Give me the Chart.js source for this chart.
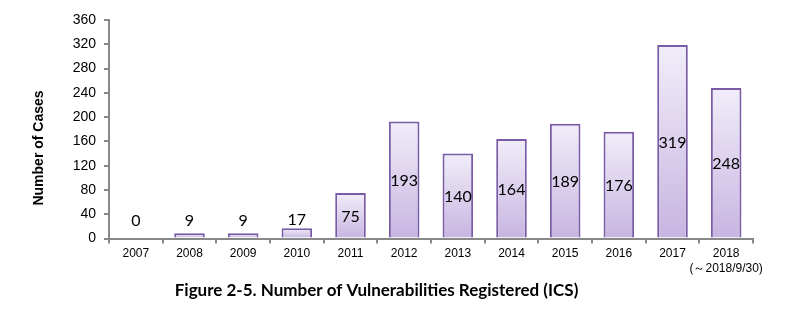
<!DOCTYPE html>
<html><head><meta charset="utf-8">
<script src="https://cdn.jsdelivr.net/npm/chart.js@4/dist/chart.umd.min.js"></script>
<style>html,body{margin:0;padding:0;background:#fff}#wrap{width:798px;height:324px;position:relative}</style>
</head><body><div id="wrap"><canvas id="c" width="798" height="324"></canvas></div>
<script>
const categories = ["2007","2008","2009","2010","2011","2012","2013","2014","2015","2016","2017",["2018","(～2018/9/30)"]];
const values = [0,9,9,17,75,193,140,164,189,176,319,248];
const yTicks = [0,40,80,120,160,200,240,280,320,360];

const labelPlugin = {
  id: 'vlabels',
  afterDatasetsDraw(chart) {
    const ctx = chart.ctx;
    const meta = chart.getDatasetMeta(0);
    const ys = chart.scales.y;
    ctx.save();
    ctx.font = '16px Lato, "Open Sans", sans-serif';
    ctx.fillStyle = '#000';
    ctx.textAlign = 'center';
    ctx.textBaseline = 'middle';
    meta.data.forEach((bar, i) => {
      const v = values[i];
      let y;
      if (v < 40) y = Math.min(bar.y - 8, ys.getPixelForValue(30));
      else y = (bar.y + ys.getPixelForValue(0)) / 2 + 1;
      ctx.fillText(String(v), bar.x, y);
    });
    ctx.restore();
  }
};

const yTitlePlugin = {
  id: 'ytitle',
  afterDraw(chart) {
    const ctx = chart.ctx;
    ctx.save();
    ctx.translate(39, 148);
    ctx.rotate(-Math.PI/2);
    ctx.font = 'bold 14px "Liberation Sans", Arial, sans-serif';
    ctx.fillStyle = '#000';
    ctx.textAlign = 'center';
    ctx.textBaseline = 'middle';
    ctx.fillText('Number of Cases', 0, 0);
    ctx.restore();
  }
};

new Chart(document.getElementById('c'), {
  type: 'bar',
  data: {
    labels: categories,
    datasets: [{
      data: values,
      backgroundColor(ctx) {
        const chart = ctx.chart;
        const ys = chart.scales.y;
        if (!ys || ctx.type !== 'data') return '#ddd3ee';
        const top = ys.getPixelForValue(values[ctx.dataIndex]);
        const bot = ys.getPixelForValue(0);
        if (!isFinite(top) || !isFinite(bot) || top === bot) return '#ddd3ee';
        const g = chart.ctx.createLinearGradient(0, top, 0, bot);
        g.addColorStop(0, '#f1edf9');
        g.addColorStop(1, '#c7b5e1');
        return g;
      },
      borderColor: '#7a5ca6',
      borderWidth: 2,
      borderSkipped: 'bottom',
      barPercentage: 0.57,
      categoryPercentage: 1.0
    }]
  },
  options: {
    responsive: false,
    animation: false,
    layout: { padding: { top: 20, right: 45, left: 0, bottom: 17 } },
    plugins: {
      legend: { display: false },
      tooltip: { enabled: false },
      title: {
        display: true,
        position: 'bottom',
        text: 'Figure 2-5. Number of Vulnerabilities Registered (ICS)',
        color: '#000',
        font: { family: 'Lato, "Open Sans", sans-serif', size: 17, weight: 'bold' },
        padding: { top: 6, bottom: 6 }
      }
    },
    scales: {
      x: {
        grid: { display: true, offset: true, drawOnChartArea: false, drawTicks: true, tickLength: 5, color: '#888', lineWidth: 2 },
        border: { display: true, color: '#888', width: 2 },
        ticks: { color: '#000', font: { family: '"Liberation Sans", Arial, sans-serif', size: 12 }, maxRotation: 0, autoSkip: false, padding: 3 },
        afterFit(s) { s.height = 36; }
      },
      y: {
        min: 0, max: 360,
        afterBuildTicks(s) { s.ticks = yTicks.map(v => ({ value: v })); },
        grid: { display: true, drawOnChartArea: false, drawTicks: true, tickLength: 5, color: '#888', lineWidth: 2 },
        border: { display: true, color: '#888', width: 2 },
        ticks: { color: '#000', font: { family: '"Liberation Sans", Arial, sans-serif', size: 14 }, padding: 8 },
        afterFit(s) { s.width = 109; }
      }
    }
  },
  plugins: [labelPlugin, yTitlePlugin]
});
</script></body></html>
